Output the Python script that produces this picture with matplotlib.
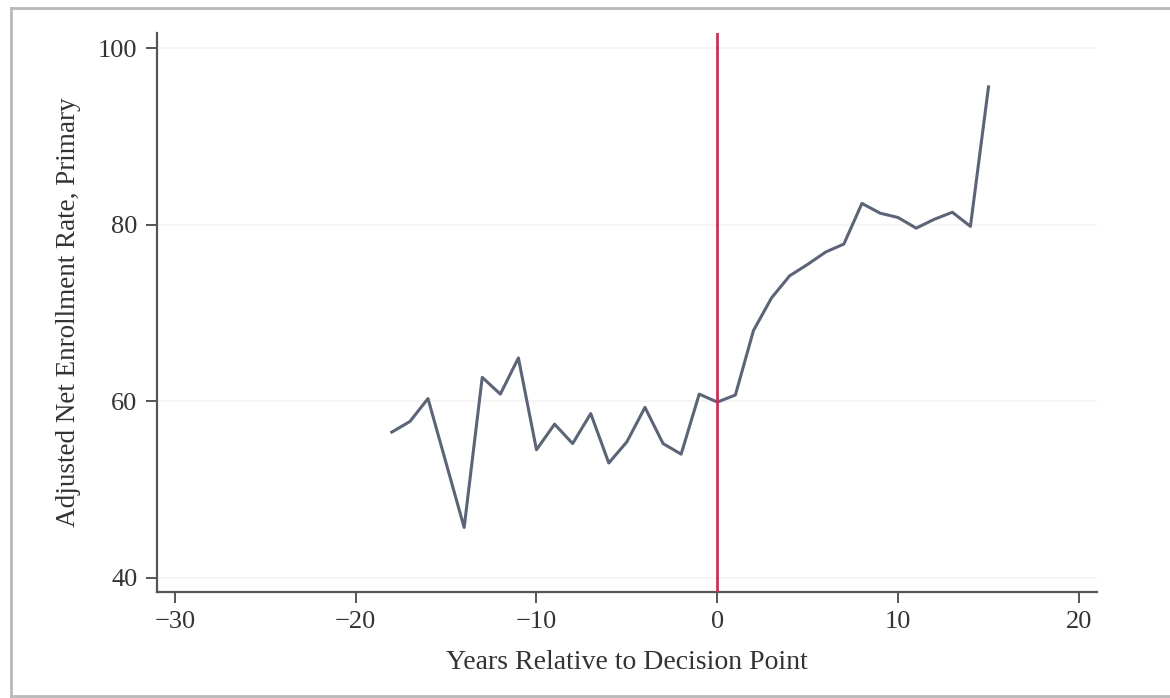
import matplotlib
matplotlib.use("Agg")
import matplotlib.pyplot as plt
from matplotlib.lines import Line2D

# years relative to decision point and adjusted net enrollment (primary)
years = [-18, -17, -16, -15, -14, -13, -12, -11, -10, -9, -8, -7, -6, -5, -4, -3,
         -2, -1, 0, 1, 2, 3, 4, 5, 6, 7, 8, 9, 10, 11, 12, 13, 14, 15]
enroll = [56.5, 57.7, 60.3, 53.0, 45.7, 62.7, 60.8, 64.9, 54.5, 57.4, 55.2, 58.6,
          53.0, 55.4, 59.3, 55.2, 54.0, 60.8, 59.9, 60.7, 68.0, 71.7, 74.2, 75.5,
          76.9, 77.8, 82.4, 81.3, 80.8, 79.6, 80.6, 81.4, 79.8, 95.6]
x_ticks = [-30, -20, -10, 0, 10, 20]
y_ticks = [40, 60, 80, 100]

plt.rcParams['font.family'] = ['Liberation Serif', 'DejaVu Serif']

fig = plt.figure(figsize=(11.7, 6.98), dpi=100)
ax = fig.add_axes([0.134, 0.152, 0.8036, 0.8007])

ax.plot(years, enroll, color='#5b6577', lw=2.2, zorder=3)
ax.axvline(0, color='#c8325a', lw=2, zorder=4)

ax.set_xlim(-31, 21)
ax.set_ylim(38.4, 101.7)
ax.set_xticks(x_ticks)
ax.set_yticks(y_ticks)
ax.set_xticklabels([str(t).replace('-', '\u2212') for t in x_ticks])

for y in y_ticks:
    ax.axhline(y, color='#f3f3f3', lw=1.2, zorder=1)

for s in ['top', 'right']:
    ax.spines[s].set_visible(False)
for s in ['left', 'bottom']:
    ax.spines[s].set_color('#555555')
    ax.spines[s].set_linewidth(1.6)

ax.tick_params(direction='out', length=8, width=1.4, color='#555555',
               labelsize=19, labelcolor='#333333', pad=6)
ax.set_xlabel('Years Relative to Decision Point', fontsize=20, color='#333333', labelpad=12)
ax.set_ylabel('Adjusted Net Enrollment Rate, Primary', fontsize=19.5, color='#333333', labelpad=12)

# screenshot frame
for xs, ys in [([0.0094, 0.0094], [0.003, 0.989]),
               ([0.0094, 1.0], [0.989, 0.989]),
               ([0.0094, 1.0], [0.003, 0.003])]:
    fig.add_artist(Line2D(xs, ys, transform=fig.transFigure, color='#b8b8b8', lw=2))

fig.savefig('out.png', dpi=100, facecolor='white')
